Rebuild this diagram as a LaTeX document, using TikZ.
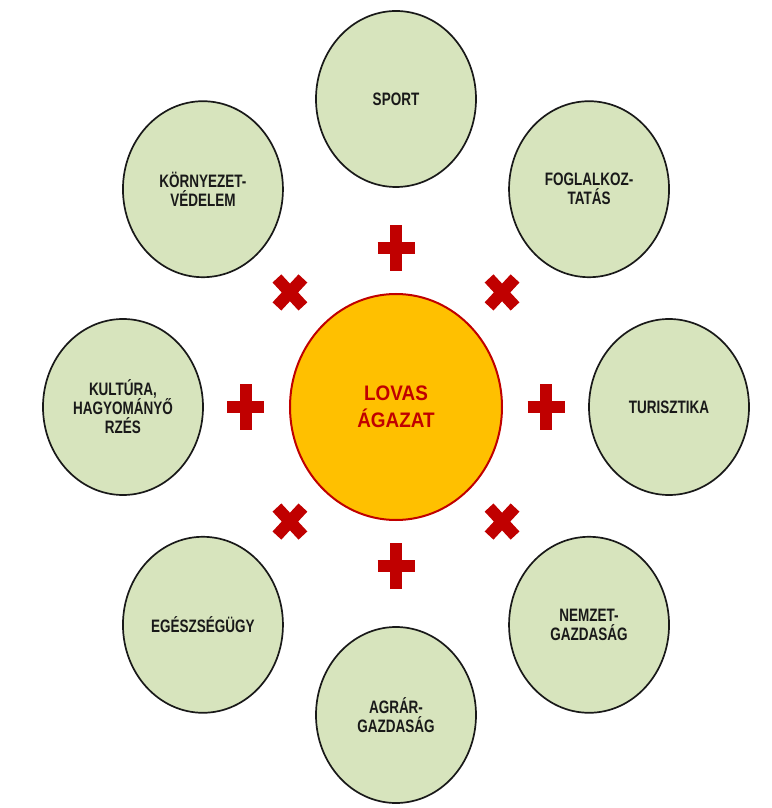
\documentclass[tikz,border=0pt]{standalone}
\usepackage{fontspec}
\newfontfamily\topicfont[FakeStretch=0.75]{Liberation Sans}
\newfontfamily\hubfont[FakeStretch=0.9]{Liberation Sans}
\usetikzlibrary{shapes.geometric}
\definecolor{topicgreen}{HTML}{D7E4BD}
\definecolor{hubgold}{HTML}{FFC000}
\definecolor{markred}{HTML}{C00000}

\begin{document}
\begin{tikzpicture}[x=1pt, y=1pt,
  topic/.style={ellipse, draw=black!90, line width=1.7pt, fill=topicgreen, minimum width=160pt, minimum height=176pt, inner sep=0pt, align=center, text=black!90, font=\topicfont\bfseries\fontsize{18}{19}\selectfont},
  hub/.style={ellipse, draw=markred, line width=2pt, fill=hubgold, minimum width=212pt, minimum height=226pt, inner sep=0pt, align=center, text=markred, font=\hubfont\bfseries\fontsize{21}{27}\selectfont},
  plusmark/.style={markred, line width=12.5pt},
  crossmark/.style={markred, line width=12pt}]
\useasboundingbox (-396,-401) rectangle (375,407);
\node[hub] (hub) at (0,0) {LOVAS\\ÁGAZAT};
% outer ring
\node[topic] (sport) at (90:273 and 308) {SPORT};
\node[topic] (foglalkoztatas) at (45:273 and 308) {FOGLALKOZ-\\TATÁS};
\node[topic] (turisztika) at (0:273 and 308) {TURISZTIKA};
\node[topic] (nemzetgazd) at (-45:273 and 308) {NEMZET-\\GAZDASÁG};
\node[topic] (agrargazd) at (-90:273 and 308) {AGRÁR-\\GAZDASÁG};
\node[topic] (egeszsegugy) at (-135:273 and 308) {EGÉSZSÉGÜGY};
\node[topic] (kultura) at (180:273 and 308) {KULTÚRA,\\HAGYOMÁNYŐ\\RZÉS};
\node[topic] (kornyezet) at (135:273 and 308) {KÖRNYEZET-\\VÉDELEM};
% plus and cross marks
\foreach \a in {0,90,180,270}
  \draw[plusmark, shift={(\a:150 and 159)}] (-18.5,0) -- (18.5,0) (0,-23) -- (0,23);
\foreach \a in {45,135,225,315}
  \draw[crossmark, shift={(\a:150 and 162)}] (-13,-14) -- (13,14) (-13,14) -- (13,-14);
\end{tikzpicture}
\end{document}
